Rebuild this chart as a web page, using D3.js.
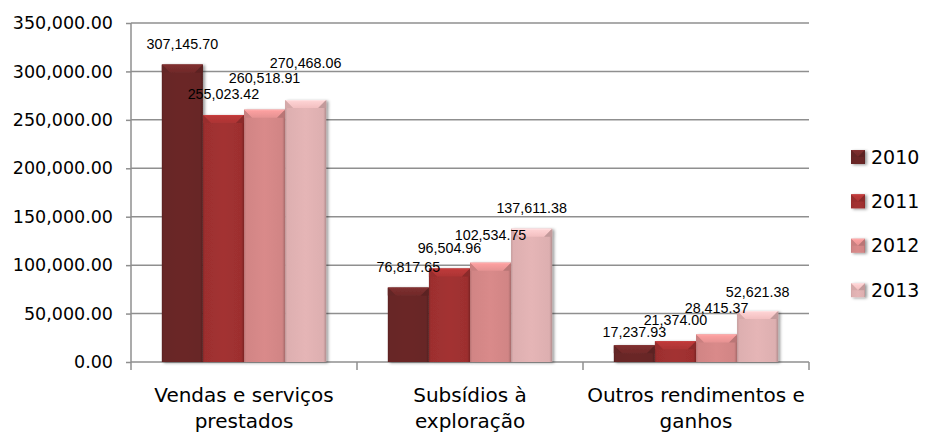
<!DOCTYPE html>
<html>
<head>
<meta charset="utf-8">
<script src="https://cdn.jsdelivr.net/npm/d3@7"></script>
<style>
    html, body { margin: 0; padding: 0; background: #fff; }
    svg { display: block; }
    .axis text { font-family: "DejaVu Sans", sans-serif; font-size: 17.5px; fill: #000; }
    .cat-label { font-family: "DejaVu Sans", sans-serif; font-size: 20px; fill: #000; }
    .value-label { font-family: "Liberation Sans", Arial, sans-serif; font-size: 14.3px; fill: #000; }
    .legend text { font-family: "DejaVu Sans", sans-serif; font-size: 19px; fill: #000; }
</style>
</head>
<body>
<div id="chart"></div>
<script>
// data
const categories = [
    ["Vendas e serviços", "prestados"],
    ["Subsídios à", "exploração"],
    ["Outros rendimentos e", "ganhos"]
];
const years = ["2010", "2011", "2012", "2013"];
const values2010 = [307145.70, 76817.65, 17237.93];
const values2011 = [255023.42, 96504.96, 21374.00];
const values2012 = [260518.91, 102534.75, 28415.37];
const values2013 = [270468.06, 137611.38, 52621.38];
const yTicks = [0, 50000, 100000, 150000, 200000, 250000, 300000, 350000];

const series = [values2010, values2011, values2012, values2013];

// styles / layout
const COLORS = ["#6b2828", "#a33131", "#d98a8a", "#e5b5b6"];
const GRID = "#8f8f8f";
const BEVEL = 8;
const LABEL_GAP = 21;
// extra lift Excel gave some labels to keep them apart (per category, per year)
const LABEL_NUDGE = [[0, 0, 11, 16], [0, 0, 7, 0], [-8, 0, 5, -2]];

const W = 931, H = 433;
const margin = { top: 23, left: 131, right: 122, bottom: 71 };
const width = W - margin.left - margin.right;
const height = H - margin.top - margin.bottom;

const fmt = d3.format(",.2f");

const svg = d3.select("#chart")
    .append("svg")
    .attr("width", W)
    .attr("height", H);

const defs = svg.append("defs");

const shadow = defs.append("filter")
    .attr("id", "shadow")
    .attr("x", "-20%").attr("y", "-20%")
    .attr("width", "150%").attr("height", "150%");
shadow.append("feDropShadow")
    .attr("dx", 2).attr("dy", 1)
    .attr("stdDeviation", 1.6)
    .attr("flood-color", "#000")
    .attr("flood-opacity", 0.4);

// gradients for each series
COLORS.forEach((c, i) => {
    const base = d3.color(c);
    const body = defs.append("linearGradient")
        .attr("id", "body-" + i)
        .attr("x1", 0).attr("x2", 1).attr("y1", 0).attr("y2", 0);
    [[0, base.darker(0.5)], [0.05, base.darker(0.1)], [0.5, base], [0.93, base.darker(0.1)], [1, base.darker(0.7)]]
        .forEach(([o, col]) => body.append("stop").attr("offset", o).attr("stop-color", col));

    const top = defs.append("linearGradient")
        .attr("id", "top-" + i)
        .attr("x1", 0).attr("x2", 0).attr("y1", 0).attr("y2", 1);
    [[0, base.brighter(0.45)], [1, base.brighter(0.15)]]
        .forEach(([o, col]) => top.append("stop").attr("offset", o).attr("stop-color", col));
});

const g = svg.append("g")
    .attr("class", "mainG")
    .attr("transform", `translate(${margin.left}, ${margin.top})`);

// scales
const x = d3.scaleBand()
    .domain(d3.range(categories.length))
    .range([0, width]);

const xInner = d3.scaleBand()
    .domain(years)
    .range([0, x.bandwidth()])
    .paddingInner(0)
    .paddingOuter(0.75);

const y = d3.scaleLinear()
    .domain([0, 350000])
    .range([height, 0]);

// gridlines
g.append("g")
    .selectAll("line")
    .data(yTicks.filter(t => t > 0))
    .enter()
    .append("line")
    .attr("x1", 0)
    .attr("x2", width)
    .attr("y1", d => y(d))
    .attr("y2", d => y(d))
    .attr("stroke", GRID)
    .attr("stroke-width", 1.5);

// y axis
const yAxis = g.append("g")
    .attr("class", "y axis")
    .call(
        d3.axisLeft(y)
            .tickValues(yTicks)
            .tickFormat(fmt)
            .tickSize(5)
            .tickPadding(13)
    );
yAxis.select("path.domain").remove();
yAxis.selectAll(".tick line").attr("stroke", GRID).attr("stroke-width", 1.5);

g.append("line")
    .attr("x1", 0).attr("x2", 0)
    .attr("y1", 0).attr("y2", height + 8)
    .attr("stroke", GRID)
    .attr("stroke-width", 1.5);

// x axis baseline + category separators
g.append("line")
    .attr("x1", 0).attr("x2", width)
    .attr("y1", height).attr("y2", height)
    .attr("stroke", GRID)
    .attr("stroke-width", 1.5);

g.append("g")
    .selectAll("line")
    .data(d3.range(1, categories.length + 1))
    .enter()
    .append("line")
    .attr("x1", d => d * x.step())
    .attr("x2", d => d * x.step())
    .attr("y1", height)
    .attr("y2", height + 8)
    .attr("stroke", GRID)
    .attr("stroke-width", 1.5);

// category labels
const catG = g.append("g")
    .selectAll("text")
    .data(categories)
    .enter()
    .append("text")
    .attr("class", "cat-label")
    .attr("text-anchor", "middle");
catG.selectAll("tspan")
    .data((d, i) => d.map(line => ({ line, i })))
    .enter()
    .append("tspan")
    .attr("x", d => x(d.i) + x.bandwidth() / 2)
    .attr("y", (d, j) => height + 40 + j * 26)
    .text(d => d.line);

// bars
function bevelBar(sel, x0, y0, w, h, i) {
    const b = Math.min(BEVEL, h / 2, w / 2);
    const base = d3.color(COLORS[i]);
    const grp = sel.append("g").attr("filter", "url(#shadow)");
    grp.append("rect")
        .attr("x", x0).attr("y", y0)
        .attr("width", w).attr("height", h)
        .attr("fill", `url(#body-${i})`);
    grp.append("polygon")
        .attr("points", [[x0, y0], [x0 + w, y0], [x0 + w - b, y0 + b], [x0 + b, y0 + b]].join(" "))
        .attr("fill", `url(#top-${i})`);
    grp.append("polygon")
        .attr("points", [[x0, y0], [x0 + b, y0 + b], [x0, y0 + b]].join(" "))
        .attr("fill", base.darker(0.2));
    grp.append("polygon")
        .attr("points", [[x0 + w, y0], [x0 + w - b, y0 + b], [x0 + w, y0 + b]].join(" "))
        .attr("fill", base.darker(0.45));
    grp.append("line")
        .attr("x1", x0 + 0.5).attr("x2", x0 + w - 0.5)
        .attr("y1", y0 + 0.5).attr("y2", y0 + 0.5)
        .attr("stroke", base.brighter(0.7))
        .attr("stroke-width", 1)
        .attr("opacity", 0.6);
}

const barData = [];
categories.forEach((c, ci) => {
    years.forEach((yr, si) => {
        barData.push({ ci, si, year: yr, value: series[si][ci] });
    });
});

const barsG = g.append("g").attr("class", "bars");
barData.forEach(d => {
    const x0 = x(d.ci) + xInner(d.year);
    bevelBar(barsG, x0, y(d.value), xInner.bandwidth(), height - y(d.value), d.si);
});

// value labels
g.append("g")
    .selectAll("text")
    .data(barData)
    .enter()
    .append("text")
    .attr("class", "value-label")
    .attr("text-anchor", "middle")
    .attr("x", d => x(d.ci) + xInner(d.year) + xInner.bandwidth() / 2)
    .attr("y", d => y(d.value) - LABEL_GAP - LABEL_NUDGE[d.ci][d.si])
    .attr("dy", "0.35em")
    .text(d => fmt(d.value));

// legend
const legend = svg.append("g")
    .attr("class", "legend")
    .attr("transform", "translate(851, 157)");

const items = legend.selectAll("g")
    .data(years)
    .enter()
    .append("g")
    .attr("transform", (d, i) => `translate(0, ${i * 44.4})`);

items.each(function (d, i) {
    bevelBar(d3.select(this), 0, -7, 14, 14, i);
});

items.append("text")
    .attr("x", 20)
    .attr("y", 0)
    .attr("dy", "0.35em")
    .text(d => d);
</script>
</body>
</html>
